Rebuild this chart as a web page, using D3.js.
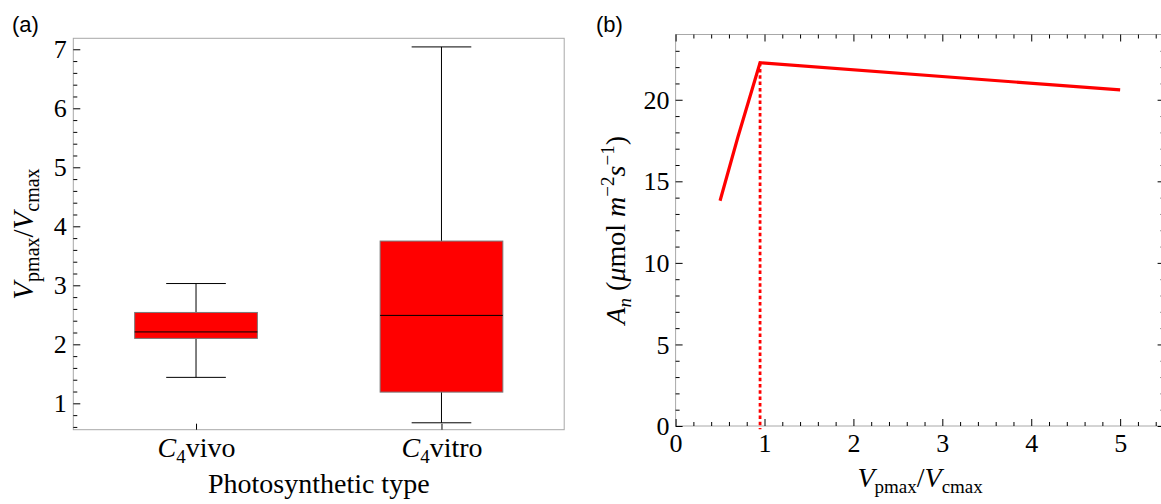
<!DOCTYPE html>
<html>
<head>
<meta charset="utf-8">
<script src="https://cdn.jsdelivr.net/npm/d3@7"></script>
<style>
  body { margin: 0; background: #fff; }
  svg { display: block; }
  .serif, .serif text { font-family: "Liberation Serif", "Times New Roman", serif; }
</style>
</head>
<body>
<div id="chart"></div>
<script>
// ---- data ----
var categories = ["C4vivo", "C4vitro"];
var boxMin    = [1.44, 0.67];
var boxQ1     = [2.10, 1.19];
var boxMedian = [2.21, 2.49];
var boxQ3     = [2.54, 3.75];
var boxMax    = [3.03, 7.04];

var ratioX = [0.5, 0.7, 0.95, 5.0];      // Vpmax/Vcmax
var anetY  = [13.81, 17.7, 22.27, 20.6]; // An
var optimumX = 0.95;
var optimumY = 22.27;

var yTicksA = [1, 2, 3, 4, 5, 6, 7];
var xTicksB = [0, 1, 2, 3, 4, 5];
var yTicksB = [0, 5, 10, 15, 20];

var W = 1161, H = 504;
var frameColor = "#a8a8a8";
var serifFont = "Liberation Serif";
var fmt = d3.format("d");

var svg = d3.select("#chart").append("svg")
    .attr("width", W)
    .attr("height", H);

// write text made of pieces (italic / sub / sup)
function richText(sel, parts, base) {
    var cur = 0;
    parts.forEach(function(p) {
        var shift = p.shift || 0;
        var ts = sel.append("tspan")
            .style("font-style", p.i ? "italic" : "normal")
            .style("font-size", (p.size || base) + "px")
            .text(p.t);
        if (shift !== cur) ts.attr("dy", shift - cur);
        cur = shift;
    });
}

function noDomain(g){ g.select(".domain").remove(); }

function serifTicks(size, dy) {
    return function(g) {
        noDomain(g);
        g.attr("font-family", serifFont);
        g.selectAll("text")
            .attr("font-family", serifFont)
            .attr("font-size", size);
        if (dy) g.selectAll("text").attr("dy", dy);
    };
}

// ================= panel (a) : box plot =================
var ax0 = 73.3, ax1 = 564.2, ay0 = 38.3, ay1 = 429.7;

var xA = d3.scalePoint().domain(categories).range([ax0, ax1]).padding(0.5);
var yA = d3.scaleLinear().domain([0.553, 7.186]).range([ay1, ay0]);

var gA = svg.append("g");

gA.append("rect")
    .attr("x", ax0).attr("y", ay0)
    .attr("width", ax1 - ax0).attr("height", ay1 - ay0)
    .attr("fill", "none")
    .attr("stroke", frameColor);

// minor ticks every 0.2
var minorA = d3.range(0.6, 7.01, 0.2).filter(function(v){ return Math.abs(v - Math.round(v)) > 1e-6; });
gA.append("g")
    .attr("transform", "translate(" + ax0 + ",0)")
    .call(d3.axisLeft(yA).tickValues(minorA).tickSize(-4).tickFormat(""))
    .call(noDomain);

gA.append("g")
    .attr("transform", "translate(" + ax0 + ",0)")
    .call(d3.axisLeft(yA).tickValues(yTicksA).tickFormat(fmt).tickSize(-7).tickPadding(6.5))
    .call(serifTicks(26, "0.33em"));

var step = xA.step();
var bw = step * 0.5, cw = step * 0.243;

var xAxisA = gA.append("g")
    .attr("transform", "translate(0," + ay1 + ")")
    .call(d3.axisBottom(xA).tickSize(-6).tickPadding(7))
    .call(serifTicks(28));

xAxisA.selectAll(".tick text")
    .each(function(d) {
        var t = d3.select(this).text(null);
        richText(t, [{t: "C", i: true}, {t: "4", size: 19, shift: 6}, {t: d.slice(2)}], 28);
    });

var boxes = gA.selectAll(".box")
    .data(categories.map(function(c, i) {
        return {c: c, lo: boxMin[i], q1: boxQ1[i], med: boxMedian[i], q3: boxQ3[i], hi: boxMax[i]};
    }))
    .enter().append("g").attr("class", "box");

// whiskers
boxes.append("line")
    .attr("x1", function(d){ return xA(d.c); }).attr("x2", function(d){ return xA(d.c); })
    .attr("y1", function(d){ return yA(d.lo); }).attr("y2", function(d){ return yA(d.hi); })
    .attr("stroke", "#000");
boxes.selectAll(".cap")
    .data(function(d){ return [{c: d.c, v: d.lo}, {c: d.c, v: d.hi}]; })
    .enter().append("line")
    .attr("x1", function(d){ return xA(d.c) - cw / 2; }).attr("x2", function(d){ return xA(d.c) + cw / 2; })
    .attr("y1", function(d){ return yA(d.v); }).attr("y2", function(d){ return yA(d.v); })
    .attr("stroke", "#000");
boxes.append("rect")
    .attr("x", function(d){ return xA(d.c) - bw / 2; })
    .attr("y", function(d){ return yA(d.q3); })
    .attr("width", bw)
    .attr("height", function(d){ return yA(d.q1) - yA(d.q3); })
    .attr("fill", "#ff0000")
    .attr("stroke", "#7a7a7a");
boxes.append("line")
    .attr("x1", function(d){ return xA(d.c) - bw / 2; }).attr("x2", function(d){ return xA(d.c) + bw / 2; })
    .attr("y1", function(d){ return yA(d.med); }).attr("y2", function(d){ return yA(d.med); })
    .attr("stroke", "#000");

// labels
var ylabA = gA.append("text").attr("class", "serif")
    .attr("transform", "translate(33," + ((ay0 + ay1) / 2) + ") rotate(-90)")
    .attr("text-anchor", "middle");
richText(ylabA, [{t: "V", i: true}, {t: "pmax", size: 20, shift: 6}, {t: "/"}, {t: "V", i: true}, {t: "cmax", size: 20, shift: 6}], 29);

gA.append("text").attr("class", "serif")
    .attr("x", (ax0 + ax1) / 2).attr("y", 493)
    .attr("text-anchor", "middle")
    .attr("font-size", 28)
    .text("Photosynthetic type");

svg.append("text")
    .attr("x", 12).attr("y", 32)
    .attr("font-family", "Liberation Sans, Arial, sans-serif")
    .attr("font-size", 22)
    .text("(a)");

// ================= panel (b) : line =================
var bx0 = 675.6, bx1 = 1164.6, by0 = 34.5, by1 = 426;

var xB = d3.scaleLinear().domain([0, 5.5]).range([bx0, bx1]);
var yB = d3.scaleLinear().domain([0, 24]).range([by1, by0]);

var gB = svg.append("g");

gB.append("rect")
    .attr("x", bx0).attr("y", by0)
    .attr("width", bx1 - bx0).attr("height", by1 - by0)
    .attr("fill", "none")
    .attr("stroke", frameColor);

var minorXB = d3.range(0.2, 5.5, 0.2).filter(function(v){ return Math.abs(v - Math.round(v)) > 1e-6; });
var minorYB = d3.range(1, 24, 1).filter(function(v){ return v % 5 !== 0; });

gB.append("g").attr("transform", "translate(0," + by1 + ")")
    .call(d3.axisBottom(xB).tickValues(minorXB).tickSize(-4).tickFormat("")).call(noDomain);
gB.append("g").attr("transform", "translate(0," + by0 + ")")
    .call(d3.axisTop(xB).tickValues(minorXB).tickSize(-4).tickFormat("")).call(noDomain);
gB.append("g").attr("transform", "translate(0," + by0 + ")")
    .call(d3.axisTop(xB).tickValues(xTicksB).tickSize(-7).tickFormat("")).call(noDomain);
gB.append("g").attr("transform", "translate(" + bx0 + ",0)")
    .call(d3.axisLeft(yB).tickValues(minorYB).tickSize(-4).tickFormat("")).call(noDomain);
gB.append("g").attr("transform", "translate(" + bx1 + ",0)")
    .call(d3.axisRight(yB).tickValues(minorYB).tickSize(-4).tickFormat("")).call(noDomain);
gB.append("g").attr("transform", "translate(" + bx1 + ",0)")
    .call(d3.axisRight(yB).tickValues(yTicksB).tickSize(-7).tickFormat("")).call(noDomain);

gB.append("g")
    .attr("transform", "translate(0," + by1 + ")")
    .call(d3.axisBottom(xB).tickValues(xTicksB).tickFormat(fmt).tickSize(-7).tickPadding(7.5))
    .call(serifTicks(26));
gB.append("g")
    .attr("transform", "translate(" + bx0 + ",0)")
    .call(d3.axisLeft(yB).tickValues(yTicksB).tickFormat(fmt).tickSize(-7).tickPadding(6))
    .call(serifTicks(26, "0.33em"));

// dotted marker at optimum
gB.append("line")
    .attr("x1", xB(optimumX)).attr("x2", xB(optimumX))
    .attr("y1", yB(optimumY)).attr("y2", yB(-0.2))
    .attr("stroke", "#ff0000")
    .attr("stroke-width", 2.8)
    .attr("stroke-dasharray", "3.5,2.8");

var line = d3.line()
    .x(function(d){ return xB(d[0]); })
    .y(function(d){ return yB(d[1]); });

gB.append("path")
    .datum(ratioX.map(function(v, i){ return [v, anetY[i]]; }))
    .attr("d", line)
    .attr("fill", "none")
    .attr("stroke", "#ff0000")
    .attr("stroke-width", 3.2);

// labels
var xlabB = gB.append("text").attr("class", "serif")
    .attr("x", (bx0 + bx1) / 2).attr("y", 487)
    .attr("text-anchor", "middle");
richText(xlabB, [{t: "V", i: true}, {t: "pmax", size: 19, shift: 6}, {t: "/"}, {t: "V", i: true}, {t: "cmax", size: 19, shift: 6}], 28);

var ylabB = gB.append("text").attr("class", "serif")
    .attr("transform", "translate(625," + ((by0 + by1) / 2) + ") rotate(-90)")
    .attr("text-anchor", "middle");
richText(ylabB, [
    {t: "A", i: true}, {t: "n", i: true, size: 19, shift: 6},
    {t: "  ("}, {t: "\u03bc", i: true}, {t: "mol "}, {t: "m", i: true},
    {t: "\u22122", size: 19, shift: -11}, {t: "s", i: true},
    {t: "\u22121", size: 19, shift: -11}, {t: ")"}
], 28);

svg.append("text")
    .attr("x", 596).attr("y", 32)
    .attr("font-family", "Liberation Sans, Arial, sans-serif")
    .attr("font-size", 22)
    .text("(b)");
</script>
</body>
</html>
